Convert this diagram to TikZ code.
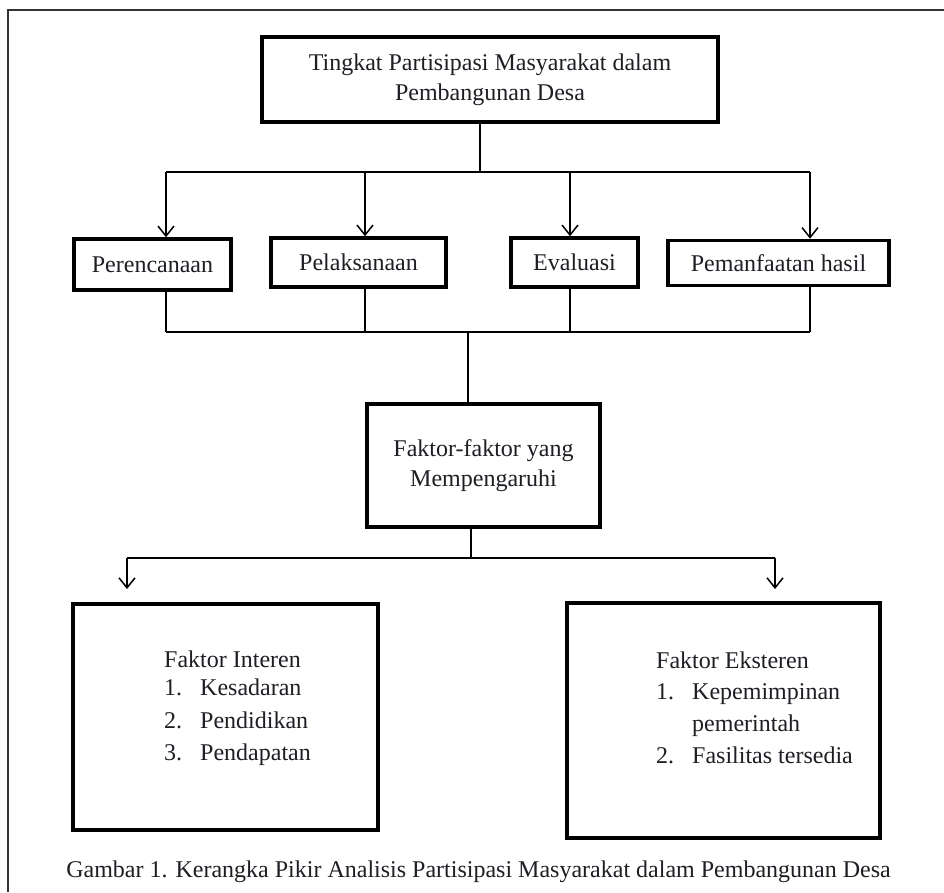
\documentclass[tikz,border=0pt]{standalone}
\usepackage{fontspec}
\setmainfont{Liberation Serif}
\usetikzlibrary{arrows.meta}
\definecolor{ink}{HTML}{1E1E24}
\definecolor{framegray}{HTML}{333333}
\begin{document}
\begin{tikzpicture}[x=1pt,y=-1pt,
  box/.style={draw=black, line width=3.5pt, rectangle, inner sep=0pt, align=center,
              font=\fontsize{24}{30}\selectfont, text=ink},
  conn/.style={line width=1.5pt, draw=black},
  arr/.style={conn, -{Straight Barb[length=10pt,width=16pt]}},
  txt/.style={inner sep=0pt, font=\fontsize{24}{30}\selectfont, text=ink, anchor=base west}]
\useasboundingbox (0,0) rectangle (944,892);
\fill[white] (0,0) rectangle (944,892);
\draw[line width=2.5pt, framegray] (8,892) -- (8,10) -- (944,10);

% boxes
\node[box, minimum width=456pt, minimum height=85pt] (top) at (490,79.5) {Tingkat Partisipasi Masyarakat dalam\\Pembangunan Desa};
\node[box, minimum width=157pt, minimum height=51pt] (p1) at (152.5,264.5) {Perencanaan};
\node[box, minimum width=175pt, minimum height=49pt] (p2) at (358.5,262.5) {Pelaksanaan};
\node[box, minimum width=127pt, minimum height=49pt] (p3) at (574.5,262.5) {Evaluasi};
\node[box, minimum width=221pt, minimum height=45pt] (p4) at (778.5,263) {Pemanfaatan hasil};
\node[box, minimum width=233pt, minimum height=123pt] (ff) at (483.5,465.5) {Faktor-faktor yang\\Mempengaruhi};
\node[box, minimum width=305pt, minimum height=226pt] (fi) at (225.5,717) {};
\node[box, minimum width=313pt, minimum height=235pt] (fe) at (723.5,720.5) {};

% internal factors
\node[txt] (fi0) at (164,667) {Faktor Interen};
\node[txt] (fi1n) at (164,695) {1.};
\node[txt] (fi1) at (200,695) {Kesadaran};
\node[txt] (fi2n) at (164,728) {2.};
\node[txt] (fi2) at (200,728) {Pendidikan};
\node[txt] (fi3n) at (164,760) {3.};
\node[txt] (fi3) at (200,760) {Pendapatan};

% external factors
\node[txt] (fe0) at (656,668) {Faktor Eksteren};
\node[txt] (fe1n) at (656,699) {1.};
\node[txt] (fe1) at (692,699) {Kepemimpinan};
\node[txt] (fe1b) at (692,731) {pemerintah};
\node[txt] (fe2n) at (656,763) {2.};
\node[txt] (fe2) at (692,763) {Fasilitas tersedia};

% caption
\node[txt, anchor=base] (cap) at (478.5,877) {Gambar 1. Kerangka Pikir Analisis Partisipasi Masyarakat dalam Pembangunan Desa};

% top bus
\coordinate (b0) at (480,172);
\coordinate (t1) at (166,172);
\coordinate (t2) at (365,172);
\coordinate (t3) at (570,172);
\coordinate (t4) at (810,172);
\draw[conn] (top.south -| b0) -- (b0);
\draw[conn] (t1) -- (t4);
\draw[arr] (t1) -- (t1 |- p1.north);
\draw[arr] (t2) -- (t2 |- p2.north);
\draw[arr] (t3) -- (t3 |- p3.north);
\draw[arr] (t4) -- (t4 |- p4.north);

% lower bus
\coordinate (u1) at (166,332);
\coordinate (u2) at (365,332);
\coordinate (u3) at (570,332);
\coordinate (u4) at (810,332);
\coordinate (m) at (468,332);
\draw[conn] (p1.south -| u1) -- (u1);
\draw[conn] (p2.south -| u2) -- (u2);
\draw[conn] (p3.south -| u3) -- (u3);
\draw[conn] (p4.south -| u4) -- (u4);
\draw[conn] (u1) -- (u4);
\draw[conn] (m) -- (m |- ff.north);

% factor split
\coordinate (n) at (471,558);
\coordinate (l) at (127,558);
\coordinate (r) at (775,558);
\coordinate (la) at (127,589);
\coordinate (ra) at (775,589);
\draw[conn] (ff.south -| n) -- (n);
\draw[conn] (l) -- (r);
\draw[arr] (l) -- (la);
\draw[arr] (r) -- (ra);
\end{tikzpicture}
\end{document}
